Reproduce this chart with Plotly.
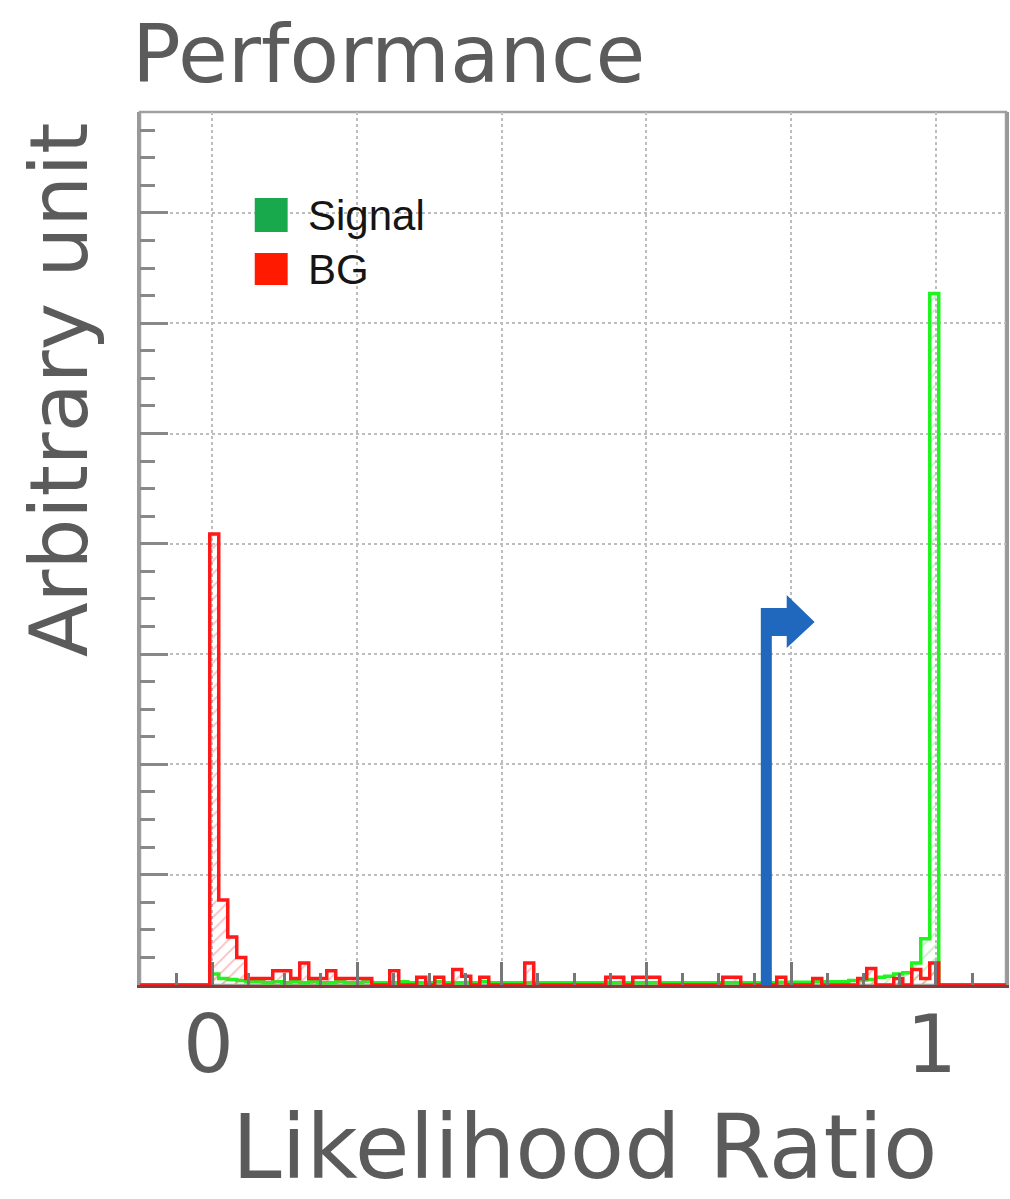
import plotly.graph_objects as go

# Histogram binning (likelihood-ratio axis)
bin_start = -0.0036
bin_width = 0.01244
x_range = [-0.1, 1.097]
y_range = [0, 7.915]

# Background (BG) per-bin content
bg_counts = [
    4.09, 0.77, 0.435, 0.25, 0.06, 0.06, 0.06, 0.13, 0.13, 0.06,
    0.20, 0.06, 0.06, 0.13, 0.06, 0.06, 0.06, 0.06, 0.0, 0.0,
    0.13, 0.0, 0.0, 0.07, 0.0, 0.07, 0.0, 0.14, 0.08, 0.0,
    0.07, 0.0, 0.0, 0.0, 0.0, 0.20, 0.0, 0.0, 0.0, 0.0,
    0.0, 0.0, 0.0, 0.0, 0.07, 0.07, 0.0, 0.07, 0.07, 0.07,
    0.0, 0.0, 0.0, 0.0, 0.0, 0.0, 0.0, 0.07, 0.07, 0.0,
    0.0, 0.0, 0.0, 0.07, 0.0, 0.0, 0.0, 0.06, 0.0, 0.0,
    0.0, 0.0, 0.06, 0.15, 0.0, 0.0, 0.06, 0.0, 0.14, 0.06,
    0.20,
]

# Signal per-bin content
signal_counts = [
    0.10, 0.06, 0.05, 0.04, 0.03, 0.03, 0.02, 0.03, 0.02, 0.03,
    0.02, 0.03, 0.02, 0.02, 0.03, 0.02, 0.02, 0.03, 0.02, 0.02,
    0.02, 0.03, 0.02, 0.02, 0.02, 0.03, 0.02, 0.02, 0.02, 0.02,
    0.03, 0.02, 0.02, 0.02, 0.02, 0.02, 0.02, 0.02, 0.02, 0.02,
    0.02, 0.02, 0.02, 0.02, 0.02, 0.02, 0.02, 0.02, 0.02, 0.02,
    0.02, 0.02, 0.02, 0.02, 0.02, 0.02, 0.02, 0.02, 0.02, 0.02,
    0.02, 0.02, 0.02, 0.025, 0.025, 0.025, 0.025, 0.03, 0.03, 0.03,
    0.03, 0.04, 0.045, 0.05, 0.07, 0.08, 0.10, 0.11, 0.20, 0.42,
    6.27,
]

# Selection cut on the likelihood ratio
cut_value = 0.7657

x_tickvals = [0, 0.2, 0.4, 0.6, 0.8, 1.0]
x_ticktext = ["0", "", "", "", "", "1"]

FONT = "DejaVu Sans"
GREY = "#5b5b5b"


def step_xy(counts):
    """Outline of a histogram over the full axis range (ROOT-style)."""
    xs = [x_range[0]]
    ys = [0.0]
    for i, c in enumerate(counts):
        xs.append(bin_start + i * bin_width)
        ys.append(c)
    xs.append(bin_start + len(counts) * bin_width)
    ys.append(0.0)
    xs.append(x_range[1])
    ys.append(0.0)
    return xs, ys


fig = go.Figure()

sx, sy = step_xy(signal_counts)
fig.add_trace(go.Scatter(
    x=sx, y=sy, mode="lines", line_shape="hv", name="Signal",
    line=dict(color="rgb(30,245,30)", width=3.5),
    fill="tozeroy",
    fillcolor="rgba(0,0,0,0)",
    fillpattern=dict(shape="/", fgcolor="rgba(110,230,110,0.9)",
                     bgcolor="rgba(0,0,0,0)", size=9, solidity=0.2),
    showlegend=False, hoverinfo="skip",
))

bx, by = step_xy(bg_counts)
fig.add_trace(go.Scatter(
    x=bx, y=by, mode="lines", line_shape="hv", name="BG",
    line=dict(color="rgb(255,25,25)", width=3.5),
    fill="tozeroy",
    fillcolor="rgba(0,0,0,0)",
    fillpattern=dict(shape="/", fgcolor="rgba(245,110,110,0.9)",
                     bgcolor="rgba(0,0,0,0)", size=9, solidity=0.2),
    showlegend=False, hoverinfo="skip",
))

# Cut arrow: vertical bar at the cut, bending right into an arrow head
half_w = 0.0076
arm_top, arm_bot = 3.418, 3.164
head_x, tip_x = 0.7939, 0.8325
head_top, head_bot, tip_y = 3.536, 3.055, 3.291
path = (
    f"M {cut_value - half_w},0 L {cut_value - half_w},{arm_top} "
    f"L {head_x},{arm_top} L {head_x},{head_top} L {tip_x},{tip_y} "
    f"L {head_x},{head_bot} L {head_x},{arm_bot} "
    f"L {cut_value + half_w},{arm_bot} L {cut_value + half_w},0 Z"
)
fig.add_shape(type="path", path=path, xref="x", yref="y",
              fillcolor="#1f68bd", line=dict(width=0), layer="above")

# Legend boxes and labels
legend_items = [("Signal", "#17a94b", 0.9015, 0.8625),
                ("BG", "#ff1a00", 0.8385, 0.8018)]
for label, color, y_top, y_bot in legend_items:
    fig.add_shape(type="rect", xref="paper", yref="paper",
                  x0=0.1325, x1=0.1705, y0=y_bot, y1=y_top,
                  fillcolor=color, line=dict(width=0))
    fig.add_annotation(xref="paper", yref="paper", x=0.1915,
                       y=(y_top + y_bot) / 2, text=label, showarrow=False,
                       xanchor="left", yanchor="middle",
                       font=dict(family="Liberation Sans", size=42,
                                 color="#151515"))

# Titles
fig.add_annotation(xref="paper", yref="paper", x=-0.012, y=1.066,
                   text="Performance", showarrow=False,
                   xanchor="left", yanchor="middle",
                   font=dict(family=FONT, size=81, color=GREY))
fig.add_annotation(xref="paper", yref="paper", x=0.5138, y=-0.1855,
                   text="Likelihood Ratio", showarrow=False,
                   xanchor="center", yanchor="middle",
                   font=dict(family=FONT, size=89, color=GREY))
fig.add_annotation(xref="paper", yref="paper", x=-0.0922, y=0.6816,
                   text="Arbitrary unit", showarrow=False, textangle=-90,
                   xanchor="center", yanchor="middle",
                   font=dict(family=FONT, size=80, color=GREY))

fig.update_xaxes(
    range=x_range, tickvals=x_tickvals, ticktext=x_ticktext,
    ticks="inside", ticklen=23, tickwidth=3, tickcolor="#777",
    minor=dict(dtick=0.05, ticks="inside", ticklen=12, tickwidth=3,
               tickcolor="#777", showgrid=False),
    showgrid=True, gridcolor="#bdbdbd", griddash="dot", gridwidth=1.5,
    showline=True, linecolor="#8a3a3a", linewidth=3, mirror=False,
    zeroline=False,
    tickfont=dict(family=FONT, size=80, color=GREY),
    ticklabelshift=-4, ticklabelstandoff=-12,
)
fig.update_yaxes(
    range=y_range, dtick=1, tick0=0, showticklabels=False,
    ticks="inside", ticklen=28, tickwidth=3, tickcolor="#888",
    minor=dict(dtick=0.25, ticks="inside", ticklen=15, tickwidth=3,
               tickcolor="#888", showgrid=False),
    showgrid=True, gridcolor="#bdbdbd", griddash="dot", gridwidth=1.5,
    showline=True, linecolor="#999", linewidth=3, mirror=True,
    zeroline=False,
)
# Top/right frame of the pad
fig.add_shape(type="rect", xref="paper", yref="paper", x0=0, x1=1, y0=0, y1=1,
              line=dict(color="#a0a0a0", width=2.5), fillcolor="rgba(0,0,0,0)",
              layer="below")

fig.update_layout(
    width=1010, height=1199,
    margin=dict(l=140, r=1, t=112, b=214),
    paper_bgcolor="white", plot_bgcolor="white",
    showlegend=False,
)

fig.write_html("out.html")
